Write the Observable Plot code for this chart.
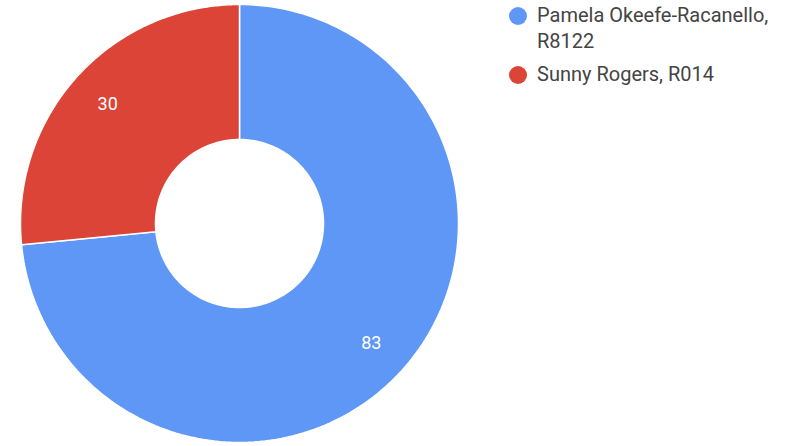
<!DOCTYPE html>
<html>
<head>
<meta charset="utf-8">
<script src="https://cdn.jsdelivr.net/npm/d3@7"></script>
<script src="https://cdn.jsdelivr.net/npm/@observablehq/plot@0.6"></script>
<style>
  html, body { margin: 0; padding: 0; background: #fff; }
  #wrap { position: relative; width: 786px; height: 446px; font-family: Roboto, "Noto Sans", sans-serif; }
  #legend { position: absolute; left: 509px; top: 1.5px; width: 275px; }
  .item { display: flex; align-items: flex-start; margin-bottom: 7.5px; }
  .sw { width: 18px; height: 18px; border-radius: 50%; flex: none; margin-top: 5px; margin-right: 10px; }
  .lab { font-size: 20px; line-height: 26px; color: #444; width: 245px; }
</style>
</head>
<body>
<div id="wrap"></div>
<script>
const categories = ["Pamela Okeefe-Racanello, R8122", "Sunny Rogers, R014"];
const values = [83, 30];
const colors = ["#5e97f6", "#db4437"];

const innerRatio = 84 / 219;
const labelRatio = 178 / 219;

const arcs = d3.pie().sort(null)(values).map((a, i) => ({...a, name: categories[i]}));

function ring(a) {
  const n = 180;
  const pts = [];
  for (let k = 0; k <= n; k++) {
    const t = a.startAngle + (a.endAngle - a.startAngle) * k / n;
    pts.push([Math.sin(t), -Math.cos(t)]);
  }
  for (let k = n; k >= 0; k--) {
    const t = a.startAngle + (a.endAngle - a.startAngle) * k / n;
    pts.push([innerRatio * Math.sin(t), -innerRatio * Math.cos(t)]);
  }
  pts.push(pts[0]);
  return pts;
}

const features = arcs.map(a => ({
  type: "Feature",
  properties: {name: a.name, value: a.value},
  geometry: {type: "Polygon", coordinates: [ring(a)]}
}));

const labels = arcs.map(a => {
  const m = (a.startAngle + a.endAngle) / 2;
  return {x: labelRatio * Math.sin(m), y: -labelRatio * Math.cos(m), text: String(a.value)};
});

const chart = Plot.plot({
  width: 786,
  height: 446,
  marginLeft: 20,
  marginRight: 328,
  marginTop: 4,
  marginBottom: 4,
  style: {fontFamily: "Roboto, sans-serif", background: "transparent"},
  projection: {type: "identity", domain: {type: "MultiPoint", coordinates: [[-1, -1], [1, 1]]}},
  color: {domain: categories, range: colors},
  marks: [
    Plot.geo(features, {fill: d => d.properties.name, stroke: "white", strokeWidth: 1.5}),
    Plot.text(labels, {x: "x", y: "y", text: "text", fill: "white", fontSize: 18})
  ]
});

const wrap = document.getElementById("wrap");
wrap.appendChild(chart);
const legend = document.createElement("div");
legend.id = "legend";
categories.forEach((c, i) => {
  const item = document.createElement("div");
  item.className = "item";
  const sw = document.createElement("div");
  sw.className = "sw";
  sw.style.background = colors[i];
  const lab = document.createElement("div");
  lab.className = "lab";
  lab.textContent = c;
  item.appendChild(sw);
  item.appendChild(lab);
  legend.appendChild(item);
});
wrap.appendChild(legend);
</script>
</body>
</html>
